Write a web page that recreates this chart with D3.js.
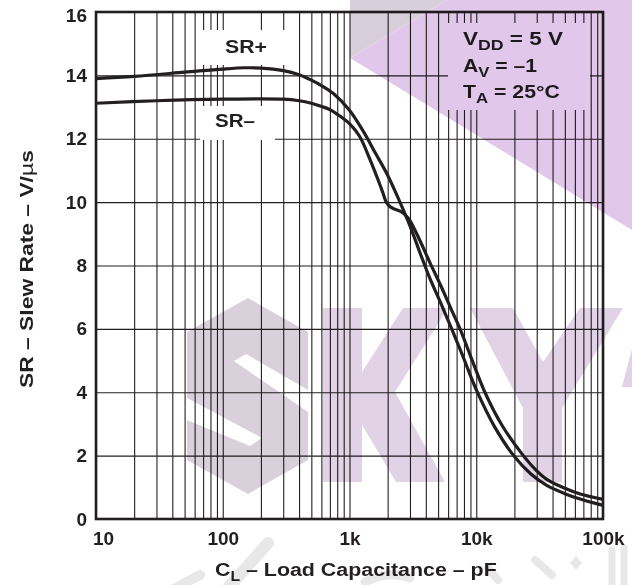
<!DOCTYPE html>
<html><head><meta charset="utf-8">
<script src="https://cdn.jsdelivr.net/npm/d3@7"></script>
<style>
html,body{margin:0;padding:0;background:#fff;}
svg{display:block;}
text{font-family:"Liberation Sans",Arial,Helvetica,sans-serif;font-weight:bold;fill:#231f20;}
</style></head><body>
<svg id="chart" width="632" height="585"></svg>
<script>
// ---- data ----
const capPlus = [10, 20, 50, 100, 150, 200, 300, 400, 500, 600, 750, 1000, 1300, 1600, 2000, 2500, 3000, 3600, 4300, 5200, 6400, 8000, 10000, 14000, 20000, 27000, 36000, 50000, 66000, 100000];
const srPlus  = [13.9, 13.97, 14.1, 14.2, 14.24, 14.23, 14.15, 14.02, 13.85, 13.68, 13.42, 12.9, 12.2, 11.55, 10.85, 10.0, 9.25, 8.4, 7.6, 6.85, 6.0, 5.05, 4.08, 2.9, 1.97, 1.42, 1.06, 0.8, 0.63, 0.43];
const capMinus = [10, 30, 100, 300, 400, 500, 600, 700, 850, 1000, 1200, 1450, 1700, 1850, 1950, 2100, 2300, 2550, 2750, 3000, 3600, 4300, 5200, 6300, 7450, 9000, 11700, 16000, 23500, 30000, 36000, 50000, 66000, 100000];
const srMinus  = [13.12, 13.2, 13.25, 13.25, 13.2, 13.12, 13.02, 12.92, 12.7, 12.48, 12.08, 11.35, 10.65, 10.25, 10.0, 9.85, 9.77, 9.7, 9.6, 9.42, 8.78, 8.1, 7.4, 6.65, 6.0, 5.15, 4.0, 2.95, 2.0, 1.52, 1.25, 0.97, 0.79, 0.62];
const xTickValues = [10, 100, 1000, 10000, 100000];
const xTickLabels = ["10", "100", "1k", "10k", "100k"];
const yTickValues = [0, 2, 4, 6, 8, 10, 12, 14, 16];
const seriesNames = ["SR+", "SR\u2013"];
const legendMain = ["V", "A", "T"];
const legendSub  = ["DD", "V", "A"];
const legendRest = [" = 5 V", " = \u20131", " = 25\u00B0C"];

// ---- layout ----
const W = 632, H = 585;
const P = {left: 96, right: 603, top: 12, bottom: 519};
const ink = "#231f20";
const x = d3.scaleLog().domain([10, 1e5]).range([P.left, P.right]);
const y = d3.scaleLinear().domain([0, 16]).range([P.bottom, P.top]);
const svg = d3.select("#chart");
svg.append("rect").attr("width", W).attr("height", H).attr("fill", "#fff");

// grid
const minorX = [];
for (let k = 1; k <= 4; k++) for (let m = 1; m <= 9; m++) minorX.push(m * Math.pow(10, k));
minorX.push(1e5);
svg.append("g").attr("transform", `translate(0,${P.bottom})`)
  .call(d3.axisBottom(x).tickValues(minorX).tickSize(-(P.bottom - P.top)).tickFormat(""))
  .call(g => g.select(".domain").remove())
  .call(g => g.selectAll("line").attr("stroke", ink).attr("stroke-width", 1.1));
svg.append("g").attr("transform", `translate(${P.left},0)`)
  .call(d3.axisLeft(y).tickValues(yTickValues.slice(1, -1)).tickSize(-(P.right - P.left)).tickFormat(""))
  .call(g => g.select(".domain").remove())
  .call(g => g.selectAll("line").attr("stroke", ink).attr("stroke-width", 1.1));

// white label boxes hiding grid
const boxes = [[200, 30, 90, 35], [200, 106, 75, 34], [448, 23, 142, 87]];
svg.append("g").selectAll("rect").data(boxes).join("rect")
  .attr("x", d => d[0]).attr("y", d => d[1]).attr("width", d => d[2]).attr("height", d => d[3])
  .attr("fill", "#fff");

// curves
const line = d3.line().x(d => x(d[0])).y(d => y(d[1])).curve(d3.curveCatmullRom.alpha(0.5));
[[capPlus, srPlus], [capMinus, srMinus]].forEach(([c, v]) => {
  svg.append("path").datum(c.map((cc, i) => [cc, v[i]]))
    .attr("d", line).attr("fill", "none").attr("stroke", ink)
    .attr("stroke-width", 3.2).attr("stroke-linejoin", "round");
});

// border
svg.append("rect").attr("x", P.left).attr("y", P.top)
  .attr("width", P.right - P.left).attr("height", P.bottom - P.top)
  .attr("fill", "none").attr("stroke", ink).attr("stroke-width", 2.6);

// tick labels
const fs = 19;
svg.append("g").attr("transform", `translate(0,${P.bottom})`)
  .call(d3.axisBottom(x).tickValues(xTickValues).tickFormat((d, i) => xTickLabels[i]).tickSize(0).tickPadding(12.5))
  .call(g => g.select(".domain").remove())
  .call(g => g.selectAll("text").attr("font-size", fs).attr("font-family", null)
    .attr("dx", (d, i) => i === 0 ? 7 : 0));
svg.append("g").attr("transform", `translate(${P.left},0)`)
  .call(d3.axisLeft(y).tickValues(yTickValues).tickSize(0).tickPadding(9))
  .call(g => g.select(".domain").remove())
  .call(g => g.selectAll("text").attr("font-size", fs).attr("font-family", null)
    .attr("y", d => d === 16 ? 3.5 : 0));

// fitted text helper
function fitted(left, right, baseline, build, rotate) {
  const g = svg.append("g");
  const t = g.append("text").attr("font-size", fs);
  build(t);
  const w = t.node().getComputedTextLength();
  const k = (right - left) / w;
  if (rotate) g.attr("transform", `translate(${baseline},${right}) rotate(-90) scale(${k},1)`);
  else g.attr("transform", `translate(${left},${baseline}) scale(${k},1)`);
  return g;
}
// series labels
fitted(225, 267, 53, t => t.text(seriesNames[0]));
fitted(215, 255, 127, t => t.text(seriesNames[1]));
// conditions
const legLeft = 463, legRight = [563, 537, 560], legBase = [45, 71.5, 98];
legendMain.forEach((m, i) => {
  fitted(legLeft, legRight[i], legBase[i], t => {
    t.append("tspan").text(m);
    t.append("tspan").attr("font-size", 15).attr("dy", 5).text(legendSub[i]);
    t.append("tspan").attr("dy", -5).text(legendRest[i]);
  });
});
// axis titles
fitted(215, 497, 576, t => {
  t.append("tspan").text("C");
  t.append("tspan").attr("font-size", 14).attr("dy", 4.5).text("L");
  t.append("tspan").attr("dy", -4.5).text(" \u2013 Load Capacitance \u2013 pF");
});
fitted(150, 388, 33, t => {
  t.append("tspan").text("SR \u2013 Slew Rate \u2013 V/");
  t.append("tspan").attr("font-weight", "normal").text("\u00B5");
  t.append("tspan").text("s");
}, true);

// ---- watermark overlay ----
const wm = svg.append("g").style("mix-blend-mode", "multiply");
const poly = (pts, fill) => wm.append("polygon").attr("points", pts.map(p => p.join(",")).join(" ")).attr("fill", fill);
poly([[447, 0], [632, 0], [632, 230], [350, 58]], "#e1c8ea");
poly([[350, 0], [447, 0], [350, 58]], "#d9cfdc");
// S
const sPath = "M248,298 L308,332 L308,460 L248,494 L187,460 L187,332 Z " +
  "M234,361 L246,354 L308,390 L308,412 Z M187,398 L187,420 L250,446 L262,438 Z";
wm.append("path").attr("d", sPath).attr("fill", "#dad0dc").attr("fill-rule", "evenodd");
// K
poly([[323, 308], [362, 308], [362, 372], [403, 308], [448, 308], [395, 392], [445, 482], [396, 482], [362, 425], [362, 482], [323, 482]], "#e1d2e5");
// Y
poly([[470, 308], [513, 308], [543, 362], [580, 308], [623, 308], [562, 408], [562, 482], [523, 482], [523, 408]], "#e1d2e5");
poly([[622, 387], [637, 330], [640, 330], [640, 387]], "#e1d2e5");
// faint grey script at the bottom
const gs = wm.append("g").attr("fill", "none").attr("stroke", "#e8e8e8").attr("stroke-linecap", "round");
gs.append("path").attr("d", "M228,588 L268,543").attr("stroke-width", 12);
gs.append("path").attr("d", "M168,592 L200,575").attr("stroke-width", 10);
gs.append("path").attr("d", "M365,582 Q388,570 410,578").attr("stroke-width", 9);
gs.append("path").attr("d", "M488,568 L498,580").attr("stroke-width", 8);
gs.append("path").attr("d", "M535,560 L552,575").attr("stroke-width", 8);
gs.append("path").attr("d", "M612,550 L612,585 M624,548 L624,585").attr("stroke-width", 7);
wm.append("polygon").attr("points", "576,556 582,563 576,570 570,563").attr("fill", "#e8e8e8");
</script>
</body></html>
